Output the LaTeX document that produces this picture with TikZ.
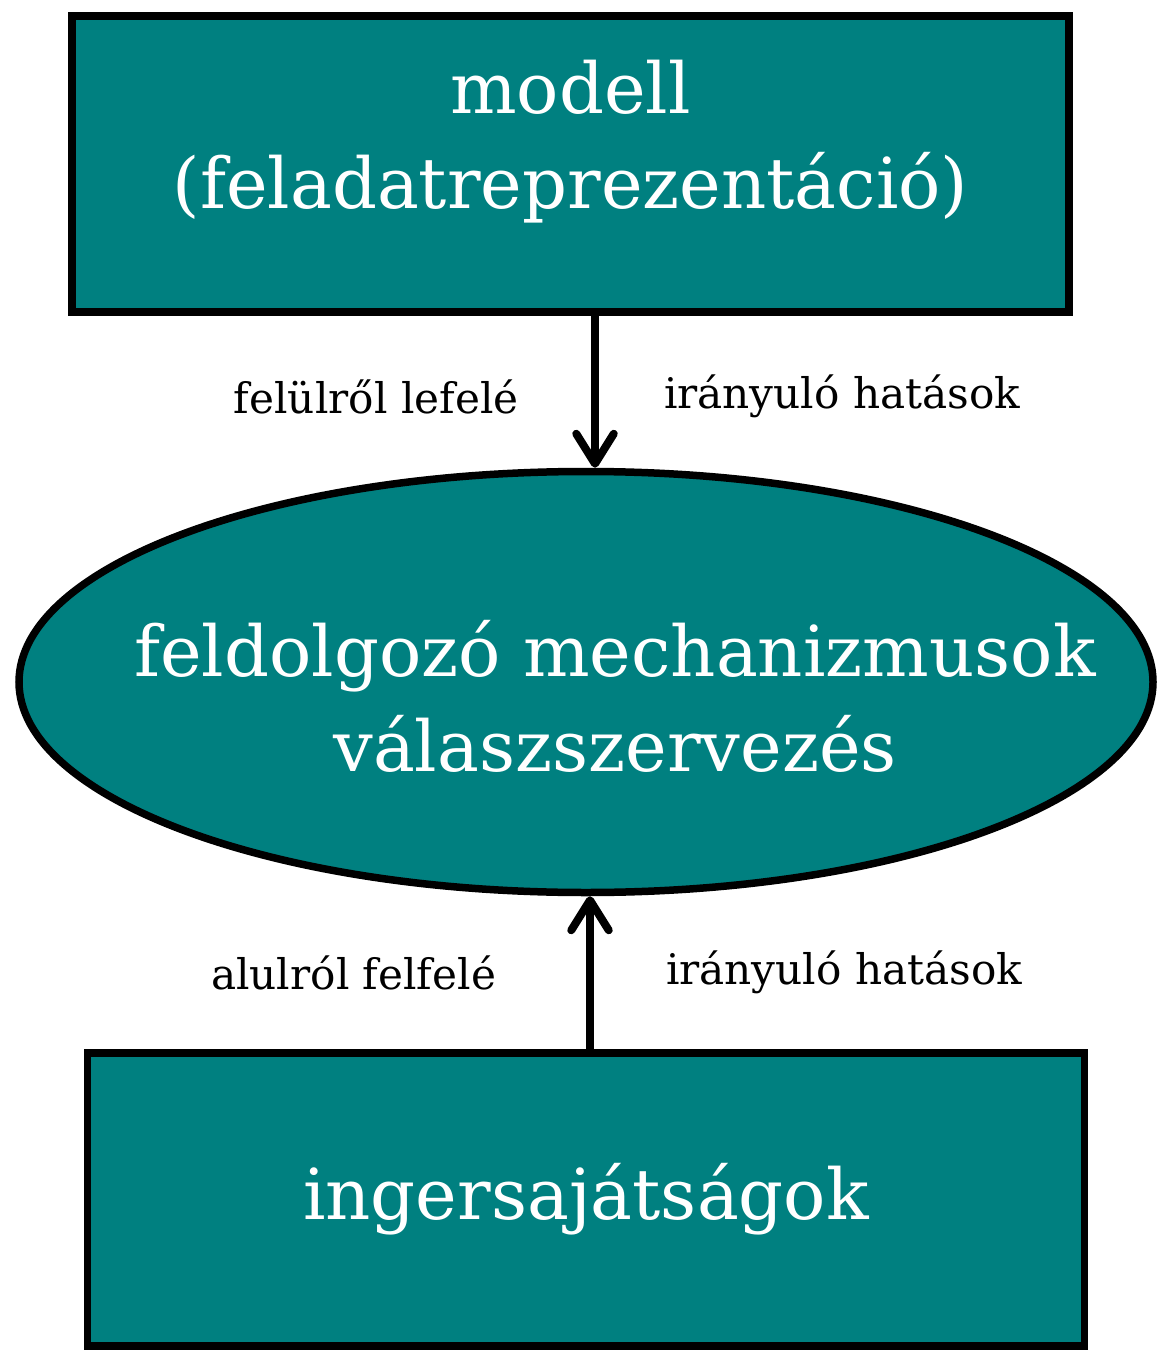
\documentclass[tikz,border=0pt]{standalone}
\usepackage{fontspec}
\setmainfont{DejaVu Serif}
\usetikzlibrary{arrows.meta, positioning, shapes.geometric, calc}
\definecolor{tealfill}{RGB}{0,128,128}

\begin{document}
\begin{tikzpicture}[
    line width=0.15cm,
    box/.style={
      rectangle,
      draw,
      fill=tealfill,
      minimum width=19.94cm,
      minimum height=5.92cm
    },
    oval/.style={
      ellipse,
      draw,
      fill=tealfill,
      inner sep=0pt,
      minimum width=22.68cm,
      minimum height=8.42cm
    },
    bigtext/.style={
      align=center,
      text=white,
      font=\fontsize{40}{54}\selectfont
    },
    smalltext/.style={
      inner sep=0pt,
      font=\fontsize{24}{28}\selectfont
    },
    arrowstyle/.style={
      -{Straight Barb[length=0.6cm, width=0.75cm, round]},
      line width=0.16cm
    }
]
\useasboundingbox (0,0) rectangle (23.16,-27);

% 1. NODES
\node[box] (model) at (11.41,-3.28) {};
\node[bigtext] at ($(model.center)+(0,0.44)$) (modeltext) {modell\\(feladatreprezentáció)};

\node[oval, below=3.04cm of model, xshift=0.31cm] (mech) {};
\node[bigtext] at ($(mech.center)+(0.58,-0.29)$) (mechtext) {feldolgozó mechanizmusok\\válaszszervezés};

\node[box, bigtext, minimum height=5.86cm, below=3.06cm of mech] (stim) {ingersajátságok};

% 2. ARROWS
% top-down effects
\draw[arrowstyle] ([xshift=0.18cm]mech.north |- model.south) --
    node[smalltext, left=1.45cm, yshift=-0.1cm]{felülről lefelé}
    node[smalltext, right=1.3cm, yshift=-0.1cm]{irányuló hatások}
    ([xshift=0.18cm]mech.north);

% bottom-up effects
\draw[arrowstyle] ([xshift=0.08cm]stim.north) --
    node[smalltext, left=1.8cm]{alulról felfelé}
    node[smalltext, right=1.44cm]{irányuló hatások}
    ([xshift=0.08cm]mech.south);

\end{tikzpicture}
\end{document}
